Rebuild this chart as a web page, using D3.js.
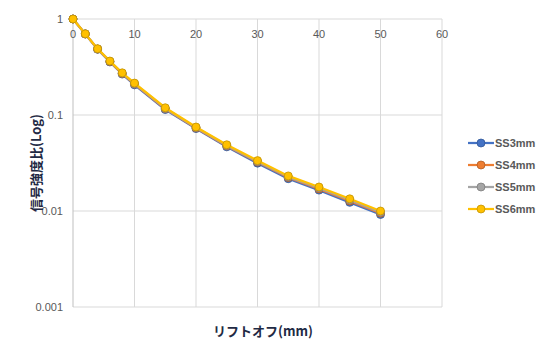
<!DOCTYPE html>
<html>
<head>
<meta charset="utf-8">
<script src="https://cdn.jsdelivr.net/npm/d3@7"></script>
<style>
  body { margin: 0; background: #fff; }
  svg text { font-family: "Liberation Sans", "Noto Sans", sans-serif; }
</style>
</head>
<body>
<div class="graph"></div>
<script>
// lift-off distances (mm)
var liftoff = [0, 2, 4, 6, 8, 10, 15, 20, 25, 30, 35, 40, 45, 50];
var seriesNames = ["SS3mm", "SS4mm", "SS5mm", "SS6mm"];
var ss3 = [1, 0.698, 0.484, 0.357, 0.267, 0.206, 0.114, 0.0722, 0.0466, 0.0315, 0.0217, 0.0165, 0.0123, 0.0092];
var ss4 = [1, 0.699, 0.486, 0.360, 0.270, 0.210, 0.116, 0.0733, 0.0476, 0.0323, 0.0223, 0.0170, 0.0127, 0.0095];
var ss5 = [1, 0.700, 0.488, 0.362, 0.272, 0.212, 0.117, 0.0740, 0.0482, 0.0328, 0.0227, 0.0174, 0.0130, 0.0097];
var ss6 = [1, 0.700, 0.490, 0.365, 0.275, 0.215, 0.119, 0.0750, 0.0490, 0.0335, 0.0232, 0.0178, 0.0134, 0.0100];
var xTicks = [0, 10, 20, 30, 40, 50, 60];
var yTicks = [1, 0.1, 0.01, 0.001];
var yTickLabels = ["1", "0.1", "0.01", "0.001"];

var colors = ["#4472c4", "#ed7d31", "#a5a5a5", "#ffc000"];
var strokes = ["#2f5597", "#ae5a21", "#7b7b7b", "#bf9000"];

var width = 536, height = 341;
var plot = { left: 73, right: 442, top: 19, bottom: 307 };

var svg = d3.select(".graph").append("svg")
    .attr("width", width)
    .attr("height", height);

var x = d3.scaleLinear().domain([0, 60]).range([plot.left, plot.right]);
var y = d3.scaleLog().domain([0.001, 1]).range([plot.bottom, plot.top]);

// gridlines
svg.append("g").selectAll("line").data(xTicks.slice(1)).enter().append("line")
  .attr("x1", d => x(d)).attr("x2", d => x(d))
  .attr("y1", plot.top).attr("y2", plot.bottom)
  .attr("stroke", "#d9d9d9").attr("stroke-width", 1);
svg.append("g").selectAll("line").data(yTicks).enter().append("line")
  .attr("x1", plot.left).attr("x2", plot.right)
  .attr("y1", d => y(d)).attr("y2", d => y(d))
  .attr("stroke", "#d9d9d9").attr("stroke-width", 1);

// left axis line
svg.append("line")
  .attr("x1", plot.left).attr("x2", plot.left)
  .attr("y1", plot.top).attr("y2", plot.bottom)
  .attr("stroke", "#bfbfbf").attr("stroke-width", 1);

// y tick labels
svg.append("g").selectAll("text").data(yTicks).enter().append("text")
  .attr("x", plot.left - 10)
  .attr("y", d => y(d))
  .attr("dy", "0.35em")
  .attr("text-anchor", "end")
  .attr("font-size", 11)
  .attr("fill", "#595959")
  .text((d, i) => yTickLabels[i]);

// x tick labels (axis crosses at 1, labels below it)
svg.append("g").selectAll("text").data(xTicks).enter().append("text")
  .attr("x", d => x(d))
  .attr("y", plot.top + 15)
  .attr("dy", "0.35em")
  .attr("text-anchor", "middle")
  .attr("font-size", 11)
  .attr("fill", "#595959")
  .text(d => d);

// series
var allSeries = [ss3, ss4, ss5, ss6];
var line = d3.line()
  .x((d, i) => x(liftoff[i]))
  .y(d => y(d));

allSeries.forEach(function (vals, s) {
  var g = svg.append("g");
  g.append("path").datum(vals)
    .attr("d", line)
    .attr("fill", "none")
    .attr("stroke", colors[s])
    .attr("stroke-width", 2.25)
    .attr("stroke-linejoin", "round");
  g.selectAll("circle").data(vals).enter().append("circle")
    .attr("cx", (d, i) => x(liftoff[i]))
    .attr("cy", d => y(d))
    .attr("r", 4)
    .attr("fill", colors[s])
    .attr("stroke", strokes[s])
    .attr("stroke-width", 0.75);
});

// legend
var legendY = [143, 165, 187, 209];
var lg = svg.append("g");
seriesNames.forEach(function (name, s) {
  lg.append("line")
    .attr("x1", 468).attr("x2", 494)
    .attr("y1", legendY[s]).attr("y2", legendY[s])
    .attr("stroke", colors[s]).attr("stroke-width", 2.25);
  lg.append("circle")
    .attr("cx", 481).attr("cy", legendY[s]).attr("r", 4)
    .attr("fill", colors[s]).attr("stroke", strokes[s]).attr("stroke-width", 0.75);
  lg.append("text")
    .attr("x", 495).attr("y", legendY[s]).attr("dy", "0.35em")
    .attr("font-size", 11).attr("font-weight", "bold")
    .attr("fill", "#595959")
    .text(name);
});

// axis titles
svg.append("text")
  .attr("transform", "translate(36," + ((plot.top + plot.bottom) / 2) + ") rotate(-90)")
  .attr("text-anchor", "middle")
  .attr("dy", "0.35em")
  .attr("font-size", 13)
  .attr("font-weight", "bold")
  .attr("fill", "#1f2a44")
  .style("font-family", "'Noto Sans CJK JP', sans-serif")
  .text("信号強度比(Log)");

svg.append("text")
  .attr("x", 263).attr("y", 331)
  .attr("text-anchor", "middle")
  .attr("dy", "0.35em")
  .attr("font-size", 13)
  .attr("font-weight", "bold")
  .attr("fill", "#1f2a44")
  .style("font-family", "'Noto Sans CJK JP', sans-serif")
  .text("リフトオフ(mm)");
</script>
</body>
</html>
